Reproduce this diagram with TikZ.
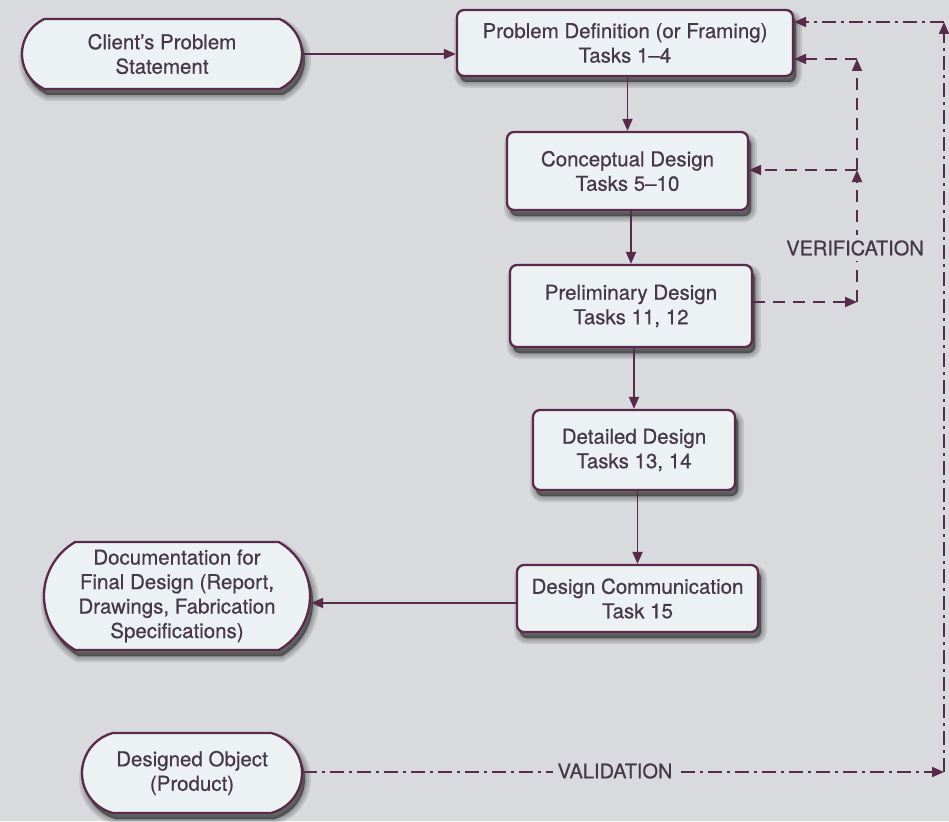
\documentclass[tikz,border=0pt]{standalone}
\usepackage{fontspec}
\setmainfont{TeX Gyre Heros}[BoldFont={TeX Gyre Heros}, BoldFeatures={FakeBold=0.5}]
\usetikzlibrary{arrows.meta,shapes.misc}

\definecolor{paper}{HTML}{D8DADD}
\definecolor{boxfill}{HTML}{ECF1F4}
\definecolor{ink}{HTML}{5A2A4C}
\definecolor{txt}{HTML}{463846}

\tikzset{
  % soft shadow: stacked translucent copies of the outline, shifted down-right
  shadowlayer/.style={preaction={draw=black, fill=black, draw opacity=0.10,
      fill opacity=0.14, line width=#1,
      transform canvas={xshift=3pt, yshift=-6pt}}},
  softshadow/.style={shadowlayer=12pt, shadowlayer=8pt, shadowlayer=4pt,
      shadowlayer=1pt},
  base/.style={softshadow, draw=ink, line width=2.3pt, fill=boxfill, text=txt,
    font=\fontsize{20.5}{24.5}\selectfont\bfseries, align=center, inner sep=0pt},
  task/.style={base, rectangle, rounded corners=7pt},
  term/.style={base, rounded rectangle},
  flow/.style={draw=ink, line width=1.9pt, -{Triangle[length=12pt,width=10pt]}},
  verify/.style={flow, dash pattern=on 12pt off 8pt},
  validate/.style={flow, dash pattern=on 14pt off 5pt on 3pt off 5pt},
  tag/.style={fill=paper, text=txt, inner sep=5pt,
    font=\fontsize{20}{24}\selectfont\bfseries},
}

\begin{document}
\begin{tikzpicture}[x=1pt, y=-1pt]
  % paper
  \fill[paper] (0,0) rectangle (949,821);
  \useasboundingbox (0,0) rectangle (949,821);

  % process steps
  \node[term, minimum width=280pt, minimum height=70pt,
        rounded rectangle arc length=130] (client) at (162,54)
        {Client's Problem\\Statement};
  \node[task, minimum width=336pt, minimum height=66pt] (problem) at (625,43)
        {Problem Definition (or Framing)\\Tasks 1--4};
  \node[task, minimum width=241pt, minimum height=78pt] (concept) at (627.5,171)
        {Conceptual Design\\Tasks 5--10};
  \node[task, minimum width=242pt, minimum height=82pt] (prelim) at (631,306)
        {Preliminary Design\\Tasks 11, 12};
  \node[task, minimum width=202pt, minimum height=80pt] (detail) at (634,450)
        {Detailed Design\\Tasks 13, 14};
  \node[task, minimum width=241pt, minimum height=67pt] (comm) at (637.5,598.5)
        {Design Communication\\Task 15};
  \node[term, minimum width=266pt, minimum height=108pt,
        rounded rectangle arc length=120] (doc) at (177,596)
        {Documentation for\\Final Design (Report,\\Drawings, Fabrication\\Specifications)};
  \node[term, minimum width=220pt, minimum height=80pt,
        rounded rectangle arc length=150] (object) at (192,773)
        {Designed Object\\(Product)};

  % main flow
  \draw[flow] (client.east) -- (client.east -| problem.west);
  \draw[flow] (concept.north |- problem.south) -- (concept.north);
  \draw[flow] (prelim.north |- concept.south) -- (prelim.north);
  \draw[flow] (detail.north |- prelim.south) -- (detail.north);
  \draw[flow] (comm.north |- detail.south) -- (comm.north);
  \draw[flow] (comm.west |- 0,603) -- (doc.east |- 0,603);

  % verification loop
  \coordinate (v1) at (857,302);
  \coordinate (v2) at (857,170);
  \coordinate (v3) at (857,59);
  \draw[verify] (prelim.east |- v1) -- (v1);
  \draw[verify] (v1) -- (v2);
  \draw[verify] (v2) -- (v2 -| concept.east);
  \draw[verify] (v2) -- (v3);
  \draw[verify] (v3) -- (v3 -| problem.east);
  \node[tag] (verlabel) at (855,248) {VERIFICATION};

  % validation loop
  \coordinate (w1) at (944,772);
  \coordinate (w2) at (944,22);
  \draw[validate] (object.east |- w1) -- (w1);
  \draw[validate] (w1) -- (w2);
  \draw[validate] (w2) -- (w2 -| problem.east);
  \node[tag] (vallabel) at (615,771) {VALIDATION};
\end{tikzpicture}
\end{document}
